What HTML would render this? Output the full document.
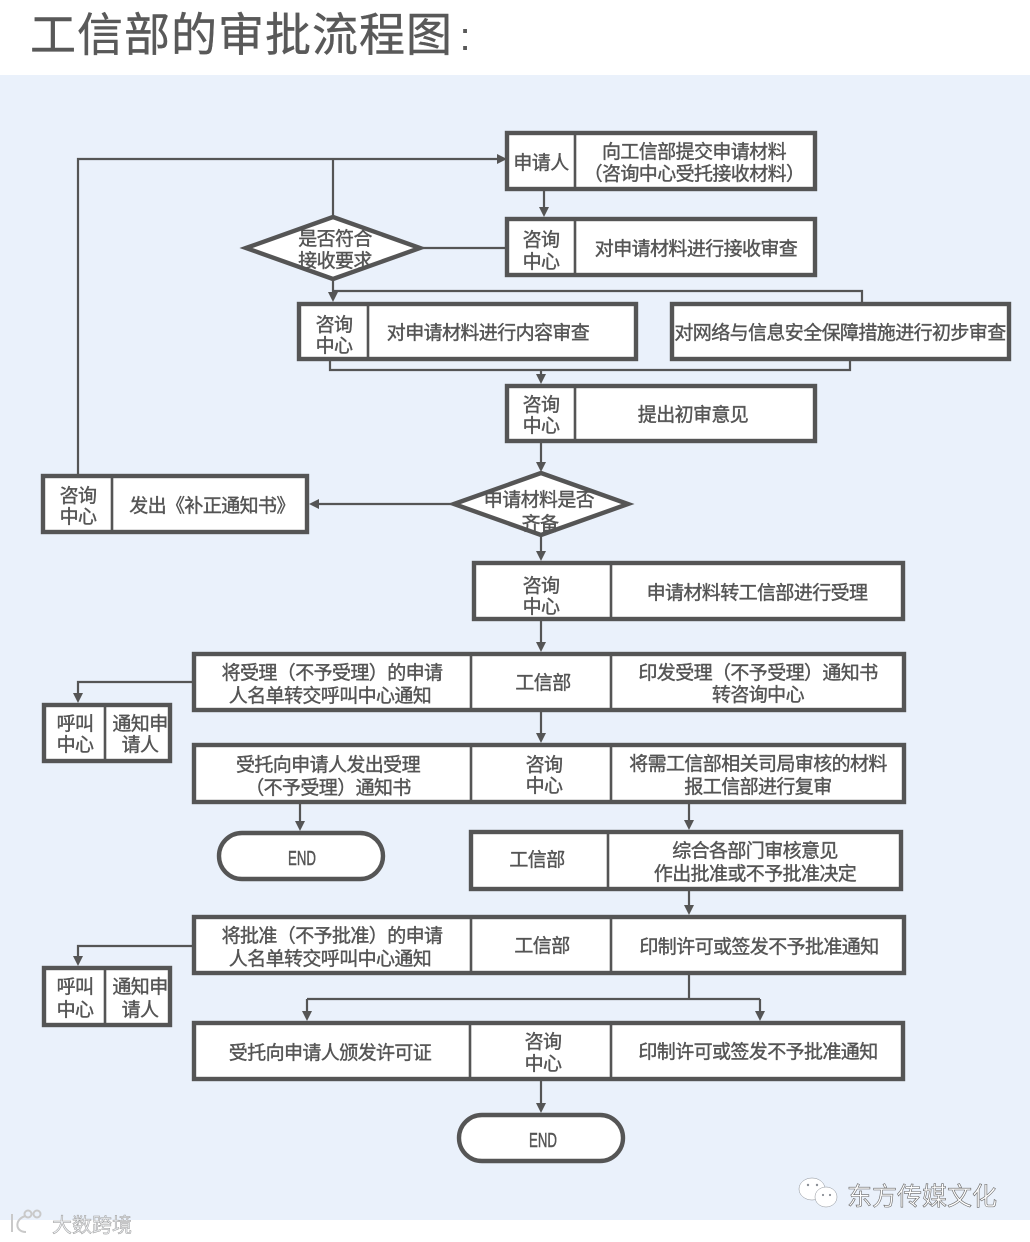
<!DOCTYPE html>
<html><head><meta charset="utf-8"><style>
html,body{margin:0;padding:0;background:#fff}
svg{display:block}
text{font-family:"Liberation Sans","Noto Sans CJK SC",sans-serif;fill:#555;text-anchor:middle}
.t text{font-size:19px;letter-spacing:-.6px;stroke:#555;stroke-width:.4}
.t text.e{letter-spacing:0;stroke-width:.5}
.b{fill:#fff;stroke:#555;stroke-width:4.4}
.d{stroke:#555;stroke-width:2.6;fill:none}
.l{stroke:#555;stroke-width:2.2;fill:none}
.a{fill:#555}
</style></head><body>
<svg width="1030" height="1242" viewBox="0 0 1030 1242" xmlns="http://www.w3.org/2000/svg">
<rect width="1030" height="1242" fill="#fff"/>
<rect y="75" width="1030" height="1145" fill="#eaf1fb"/>
<text x="30" y="51" style="text-anchor:start;font-size:46px;letter-spacing:1px;fill:#595959;stroke:#595959;stroke-width:.4">工信部的审批流程图</text>
<text x="465" y="50" style="font-size:40px;fill:#595959">:</text>

<!-- connectors -->
<path class="l" d="M78 474V159H498M333 216V159M423 248H505M333 280V296M333 291H862V302M330 361V370H850V361M541 370V378M544 191V211M541 443V466M451 504H315M541 537V555M541 621V646M541 712V737M192 682H78V697M300 804V825M689 804V824M689 891V909M192 946H78V960M689 975V999M307 999H760M307 999V1015M760 999V1015M541 1081V1107"/>
<g class="a">
<polygon points="507,159 497,154 497,164"/>
<polygon points="544,217 539,207 549,207"/>
<polygon points="333,302 328,292 338,292"/>
<polygon points="541,384 536,374 546,374"/>
<polygon points="541,472 536,462 546,462"/>
<polygon points="309,504 319,499 319,509"/>
<polygon points="541,561 536,551 546,551"/>
<polygon points="541,652 536,642 546,642"/>
<polygon points="541,743 536,733 546,733"/>
<polygon points="78,703 73,693 83,693"/>
<polygon points="300,831 295,821 305,821"/>
<polygon points="689,830 684,820 694,820"/>
<polygon points="689,915 684,905 694,905"/>
<polygon points="78,966 73,956 83,956"/>
<polygon points="307,1021 302,1011 312,1011"/>
<polygon points="760,1021 755,1011 765,1011"/>
<polygon points="541,1113 536,1103 546,1103"/>
</g>

<!-- shapes -->
<rect class="b" x="507" y="133" width="308" height="56"/><path class="d" d="M575 133V189"/>
<rect class="b" x="507" y="219" width="308" height="56"/><path class="d" d="M575 219V275"/>
<polygon class="b" points="246,248 333,217 420,248 333,279"/>
<rect class="b" x="299" y="304" width="337" height="55"/><path class="d" d="M368 304V359"/>
<rect class="b" x="672" y="304" width="337" height="55"/>
<rect class="b" x="507" y="386" width="308" height="55"/><path class="d" d="M575 386V441"/>
<polygon class="b" points="454,504 541,473 628,504 541,535"/>
<rect class="b" x="43" y="476" width="264" height="56"/><path class="d" d="M112 476V532"/>
<rect class="b" x="474" y="563" width="429" height="56"/><path class="d" d="M611 563V619"/>
<rect class="b" x="194" y="654" width="710" height="56"/><path class="d" d="M471 654V710M611 654V710"/>
<rect class="b" x="44" y="705" width="126" height="56"/><path class="d" d="M105 705V761"/>
<rect class="b" x="194" y="745" width="710" height="57"/><path class="d" d="M471 745V802M611 745V802"/>
<rect class="b" x="219" y="833" width="164" height="46" rx="23"/>
<rect class="b" x="471" y="832" width="430" height="57"/><path class="d" d="M608 832V889"/>
<rect class="b" x="194" y="917" width="710" height="56"/><path class="d" d="M471 917V973M611 917V973"/>
<rect class="b" x="44" y="968" width="126" height="57"/><path class="d" d="M105 968V1025"/>
<rect class="b" x="194" y="1023" width="709" height="56"/><path class="d" d="M470 1023V1079M611 1023V1079"/>
<rect class="b" x="459" y="1115" width="164" height="46" rx="23"/>

<!-- labels -->
<g class="t">
<text x="541" y="169">申请人</text>
<text x="694" y="158">向工信部提交申请材料</text>
<text x="694" y="180">（咨询中心受托接收材料）</text>
<text x="541" y="246">咨询</text><text x="541" y="268">中心</text>
<text x="696" y="255">对申请材料进行接收审查</text>
<text x="335" y="245">是否符合</text><text x="335" y="267">接收要求</text>
<text x="334" y="331">咨询</text><text x="334" y="352">中心</text>
<text x="488" y="339">对申请材料进行内容审查</text>
<text x="840" y="339">对网络与信息安全保障措施进行初步审查</text>
<text x="541" y="411">咨询</text><text x="541" y="432">中心</text>
<text x="693" y="421">提出初审意见</text>
<text x="78" y="502">咨询</text><text x="78" y="523">中心</text>
<text x="212" y="512">发出《补正通知书》</text>
<text x="539" y="506">申请材料是否</text><text x="540" y="530">齐备</text>
<text x="541" y="592">咨询</text><text x="541" y="613">中心</text>
<text x="757" y="599">申请材料转工信部进行受理</text>
<text x="332" y="679">将受理（不予受理）的申请</text>
<text x="330" y="702">人名单转交呼叫中心通知</text>
<text x="543" y="689">工信部</text>
<text x="758" y="679">印发受理（不予受理）通知书</text>
<text x="758" y="701">转咨询中心</text>
<text x="75" y="730">呼叫</text><text x="75" y="751">中心</text>
<text x="140" y="730">通知申</text><text x="140" y="751">请人</text>
<text x="328" y="771">受托向申请人发出受理</text>
<text x="328" y="794">（不予受理）通知书</text>
<text x="544" y="771">咨询</text><text x="544" y="792">中心</text>
<text x="758" y="770">将需工信部相关司局审核的材料</text>
<text x="758" y="793">报工信部进行复审</text>
<text class="e" x="302" y="865" textLength="28" lengthAdjust="spacingAndGlyphs" style="font-size:20px">END</text>
<text x="537" y="866">工信部</text>
<text x="755" y="857">综合各部门审核意见</text>
<text x="755" y="880">作出批准或不予批准决定</text>
<text x="332" y="942">将批准（不予批准）的申请</text>
<text x="330" y="965">人名单转交呼叫中心通知</text>
<text x="542" y="952">工信部</text>
<text x="759" y="953">印制许可或签发不予批准通知</text>
<text x="75" y="993">呼叫</text><text x="75" y="1016">中心</text>
<text x="140" y="993">通知申</text><text x="140" y="1016">请人</text>
<text x="330" y="1059">受托向申请人颁发许可证</text>
<text x="543" y="1048">咨询</text><text x="543" y="1070">中心</text>
<text x="758" y="1058">印制许可或签发不予批准通知</text>
<text class="e" x="543" y="1147" textLength="28" lengthAdjust="spacingAndGlyphs" style="font-size:20px">END</text>
</g>

<!-- watermarks -->
<g fill="#fff" stroke="#8a8f96" stroke-width=".5">
<ellipse cx="812" cy="1189" rx="13" ry="11"/>
<ellipse cx="826" cy="1197" rx="11" ry="10"/>
</g>
<g fill="#8a8f96"><circle cx="808" cy="1185" r="1.2"/><circle cx="817" cy="1185" r="1.2"/><circle cx="823" cy="1195" r="1.1"/><circle cx="830" cy="1195" r="1.1"/></g>
<text x="922" y="1205" style="font-size:25px;fill:#fff;stroke:#666;stroke-width:.6">东方传媒文化</text>
<text x="92" y="1232" style="font-size:20px;fill:#eef0f3;stroke:#9a9a9a;stroke-width:.5">大数跨境</text>
<g fill="none" stroke="#c9c9c9" stroke-width="2"><path d="M12 1214V1232"/><path d="M26 1216C15 1218 14 1232 26 1232"/><circle cx="28" cy="1214" r="3.5"/><circle cx="37" cy="1214" r="3.5"/></g>
</svg>
</body></html>
